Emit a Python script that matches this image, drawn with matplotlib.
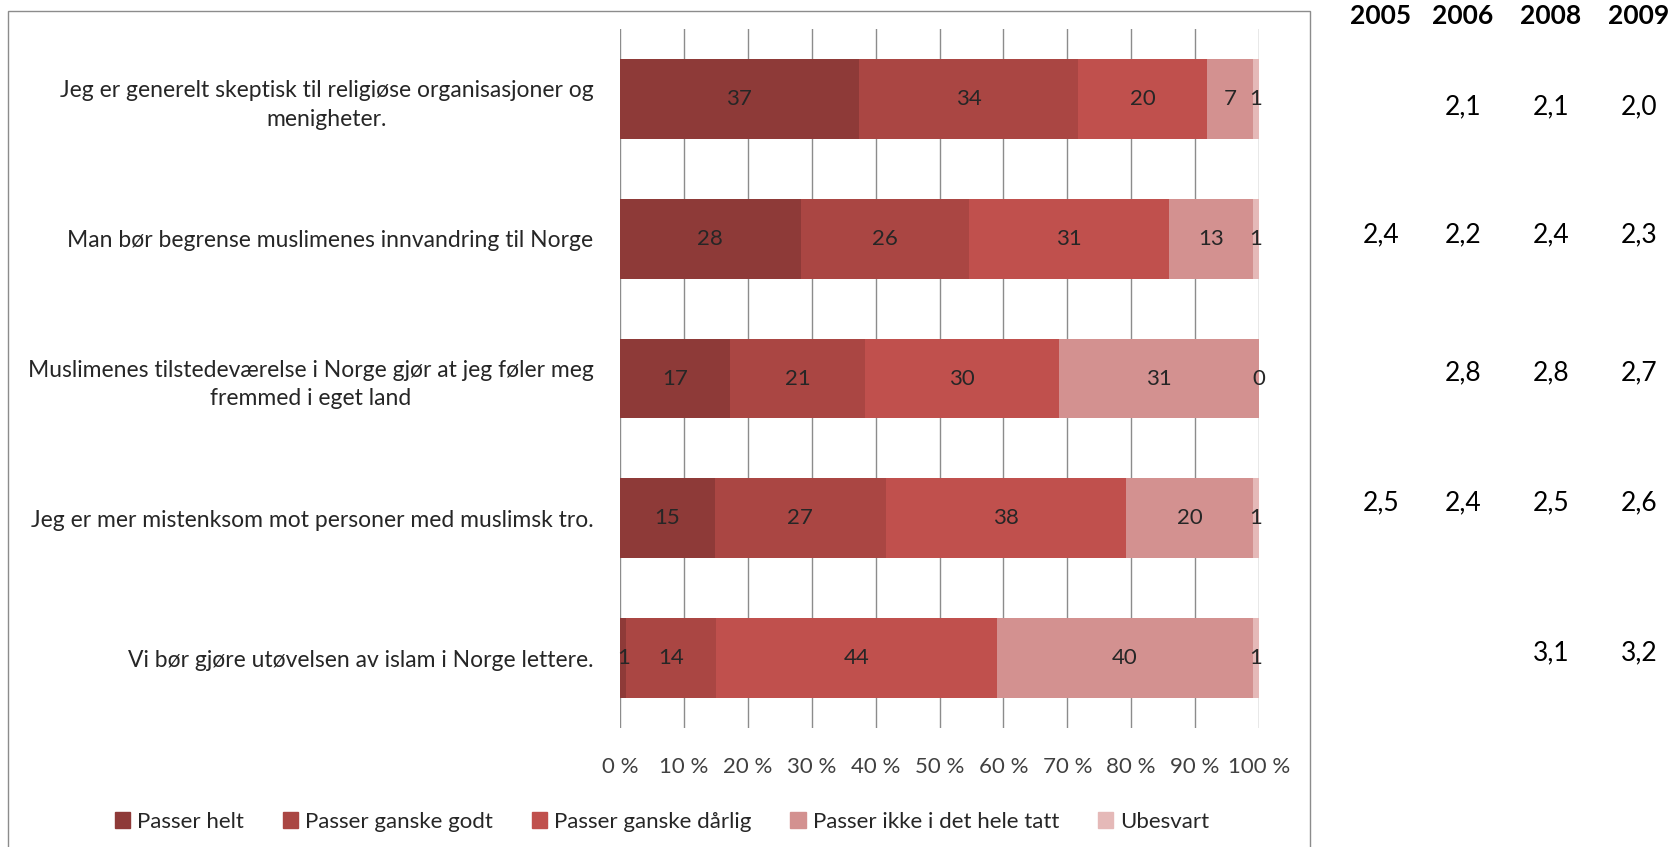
import matplotlib
matplotlib.use("Agg")
import matplotlib.pyplot as plt
import matplotlib.patches as mpatches
import numpy as np

plt.rcParams['font.family'] = ['Lato', 'DejaVu Sans']

# ---- data ----
categories = [
    "Jeg er generelt skeptisk til religiøse organisasjoner og\nmenigheter.",
    "Man bør begrense muslimenes innvandring til Norge",
    "Muslimenes tilstedeværelse i Norge gjør at jeg føler meg\nfremmed i eget land",
    "Jeg er mer mistenksom mot personer med muslimsk tro.",
    "Vi bør gjøre utøvelsen av islam i Norge lettere.",
]
series_names = ["Passer helt", "Passer ganske godt", "Passer ganske dårlig",
                "Passer ikke i det hele tatt", "Ubesvart"]
passer_helt = [37, 28, 17, 15, 1]
passer_ganske_godt = [34, 26, 21, 27, 14]
passer_ganske_darlig = [20, 31, 30, 38, 44]
passer_ikke = [7, 13, 31, 20, 40]
ubesvart = [1, 1, 0, 1, 1]
colors = ["#8E3A38", "#AA4643", "#C0504D", "#D39190", "#E5B9B8"]

years = ["2005", "2006", "2008", "2009"]
y2005 = [None, 2.4, None, 2.5, None]
y2006 = [2.1, 2.2, 2.8, 2.4, None]
y2008 = [2.1, 2.4, 2.8, 2.5, 3.1]
y2009 = [2.0, 2.3, 2.7, 2.6, 3.2]

x_ticks = [0, 10, 20, 30, 40, 50, 60, 70, 80, 90, 100]

# ---- figure ----
W, H = 1673, 847
fig = plt.figure(figsize=(W / 100, H / 100), dpi=100)

def fx(px):
    return px / W

def fy(py):
    return 1 - py / H

ax = fig.add_axes([fx(620), fy(728), fx(1259) - fx(620), fy(29) - fy(728)])

series = [passer_helt, passer_ganske_godt, passer_ganske_darlig, passer_ikke, ubesvart]
data = np.array(series, dtype=float)
totals = data.sum(axis=0)
pct = data / totals * 100

ypos = np.arange(len(categories))
left = np.zeros(len(categories))
text_color = "#262626"
FS = 16
for i, name in enumerate(series_names):
    ax.barh(ypos, pct[i], left=left, height=0.57, color=colors[i], label=name,
            zorder=2, linewidth=0)
    for j in range(len(categories)):
        ax.text(left[j] + pct[i][j] / 2, ypos[j], f"{int(data[i][j])}",
                ha="center", va="center", fontsize=FS, color=text_color, zorder=3)
    left += pct[i]

ax.set_xlim(0, 100)
ax.set_ylim(len(categories) - 0.5, -0.5)
ax.set_xticks(x_ticks)
ax.set_xticklabels([f"{t} %" for t in x_ticks], fontsize=FS, color="#404040")
ax.set_yticks(ypos)
ax.set_yticklabels(categories, fontsize=16.5, color=text_color,
                   multialignment="center", linespacing=1.45)
ax.tick_params(axis="x", length=0, pad=21)
ax.tick_params(axis="y", length=0, pad=19)
ax.grid(axis="x", color="#8c8c8c", linewidth=1, zorder=0)
ax.set_axisbelow(True)
for s in ax.spines.values():
    s.set_visible(False)

# legend
handles = [mpatches.Patch(color=c, label=n) for c, n in zip(colors, series_names)]
fig.legend(handles=handles, loc="center", bbox_to_anchor=(fx(662), fy(822)),
           ncol=5, frameon=False, fontsize=FS, handlelength=0.7, handleheight=0.7,
           handletextpad=0.3, columnspacing=1.75, labelcolor=text_color)

# frame
fig.patches.append(mpatches.Rectangle((fx(8), fy(848)), fx(1310) - fx(8), fy(11) - fy(848),
                                      transform=fig.transFigure, fill=False,
                                      edgecolor="#8c8c8c", linewidth=1))

# right-hand table
col_x = [1381, 1463, 1551, 1639]
row_y = [107, 235, 373, 503, 653]
for cx, yr, vals in zip(col_x, years, [y2005, y2006, y2008, y2009]):
    fig.text(fx(cx), fy(16), yr, ha="center", va="center", fontsize=19,
             fontweight="bold", color="black")
    for ry, v in zip(row_y, vals):
        if v is not None:
            fig.text(fx(cx), fy(ry), f"{v:.1f}".replace(".", ","), ha="center",
                     va="center", fontsize=19, color="black")

fig.savefig("out.png", dpi=100)
